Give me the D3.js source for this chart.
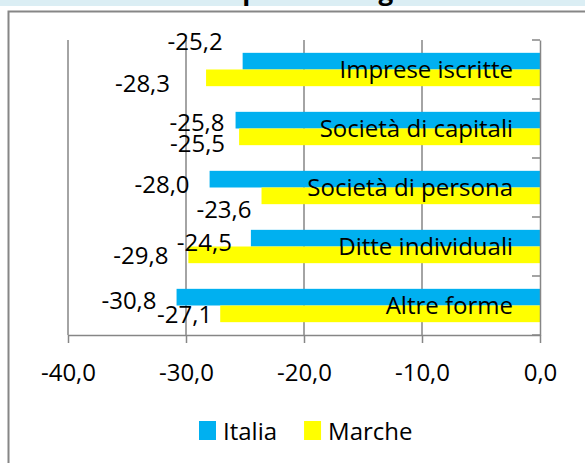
<!DOCTYPE html>
<html lang="it">

<head>
    <meta charset="UTF-8">
    <title>Imprese per forma giuridica</title>
    <script src="https://d3js.org/d3.v7.min.js"></script>
</head>
<style>
    body {
        margin: 0;
        background: #fff;
    }
    
    svg text {
        font-family: "Open Sans", Carlito, Calibri, sans-serif;
        font-size: 24px;
        fill: #000;
    }
</style>

<body>
    <script>
        // values
        const categories = ['Imprese iscritte', 'Società di capitali', 'Società di persona', 'Ditte individuali', 'Altre forme'];
        const seriesNames = ['Italia', 'Marche'];
        const italia = [-25.2, -25.8, -28.0, -24.5, -30.8];
        const marche = [-28.3, -25.5, -23.6, -29.8, -27.1];
        const xTicks = [-40, -30, -20, -10, 0];

        // manual nudges of the value labels (right edge / vertical), like the original
        const italiaNudge = [[-20, -20], [-11, 2], [-20, 5], [-19, 4], [-20, 3]];
        const marcheNudge = [[-36, 6], [-14, 7], [-10, 14], [-20, 1], [-8, 1]];

        const colors = {
            Italia: '#00b0f0',
            Marche: '#ffff00'
        };
        const grey = '#868686';

        const locale = d3.formatLocale({
            decimal: ',',
            thousands: '.',
            grouping: [3],
            currency: ['€', ''],
            minus: '-'
        });
        const fmt = locale.format('.1f');

        const svg = d3.select('body')
            .append('svg')
            .attr('width', 585)
            .attr('height', 463);

        // title band (cut at the top of the picture)
        svg.append('rect')
            .attr('x', 0)
            .attr('y', 0)
            .attr('width', 585)
            .attr('height', 6)
            .attr('fill', '#dbeef4');
        svg.append('text')
            .attr('x', 68)
            .attr('y', 0)
            .style('font-weight', 'bold')
            .style('font-size', '26px')
            .text('Variazione % per forma giuridica');

        // chart frame
        svg.append('path')
            .attr('d', 'M8.5,463V11.5H585')
            .attr('fill', 'none')
            .attr('stroke', grey)
            .attr('stroke-width', 2);

        const x = d3.scaleLinear().domain([-40, 0]).range([68, 540]);
        const y = d3.scaleBand().domain(categories).range([40, 335]);
        const ySeries = d3.scaleBand().domain(seriesNames).range([0, y.bandwidth()]).paddingOuter(0.77);

        // gridlines
        svg.append('g')
            .selectAll('line')
            .data(xTicks.filter(t => t !== 0))
            .enter()
            .append('line')
            .attr('x1', d => x(d))
            .attr('x2', d => x(d))
            .attr('y1', 40)
            .attr('y2', 335)
            .attr('stroke', grey)
            .attr('stroke-width', 1.5);

        const rows = categories.map((c, i) => ({
            cat: c,
            values: [{
                s: 'Italia',
                v: italia[i],
                nudge: italiaNudge[i]
            }, {
                s: 'Marche',
                v: marche[i],
                nudge: marcheNudge[i]
            }]
        }));

        const groups = svg.selectAll('.group')
            .data(rows)
            .enter()
            .append('g')
            .attr('class', 'group')
            .attr('transform', d => `translate(0,${y(d.cat)})`);

        groups.selectAll('rect')
            .data(d => d.values)
            .enter()
            .append('rect')
            .attr('x', d => x(d.v))
            .attr('width', d => x(0) - x(d.v))
            .attr('y', d => ySeries(d.s))
            .attr('height', ySeries.bandwidth())
            .attr('fill', d => colors[d.s]);

        // bottom axis
        const xAxis = svg.append('g')
            .attr('transform', 'translate(0,335)')
            .call(d3.axisBottom(x).tickValues(xTicks).tickFormat(fmt).tickSize(8).tickSizeOuter(0).tickPadding(21));
        xAxis.selectAll('path, line').attr('stroke', grey).attr('stroke-width', 1.5);

        // category axis on the zero line
        const yAxis = svg.append('g')
            .attr('transform', `translate(${x(0)},0)`)
            .call(d3.axisLeft(y).tickSize(0).tickPadding(27));
        yAxis.select('.domain').attr('stroke', grey).attr('stroke-width', 1.5);
        yAxis.selectAll('text').attr('dy', '0.36em');

        // tick marks between the categories
        const bounds = categories.map(c => y(c)).concat([y.range()[1]]);
        svg.append('g')
            .selectAll('line')
            .data(bounds)
            .enter()
            .append('line')
            .attr('x1', x(0) - 8)
            .attr('x2', x(0))
            .attr('y1', d => d)
            .attr('y2', d => d)
            .attr('stroke', grey)
            .attr('stroke-width', 1.5);

        svg.selectAll('.tick text').style('font-size', '24px').style('font-family', '"Open Sans", Carlito, Calibri, sans-serif').attr('fill', '#000');

        // value labels
        groups.selectAll('.val')
            .data(d => d.values)
            .enter()
            .append('text')
            .attr('class', 'val')
            .attr('text-anchor', 'end')
            .attr('x', d => x(d.v) + d.nudge[0])
            .attr('y', d => ySeries(d.s) + ySeries.bandwidth() / 2 + d.nudge[1])
            .attr('dy', '0.36em')
            .text(d => fmt(d.v));

        // legend
        let lx = 199;
        seriesNames.forEach(s => {
            svg.append('rect')
                .attr('x', lx)
                .attr('y', 421)
                .attr('width', 17)
                .attr('height', 19)
                .attr('fill', colors[s]);
            const t = svg.append('text')
                .attr('x', lx + 24)
                .attr('y', 440)
                .text(s);
            lx = lx + 24 + t.node().getComputedTextLength() + 27;
        });
    </script>
</body>

</html>
